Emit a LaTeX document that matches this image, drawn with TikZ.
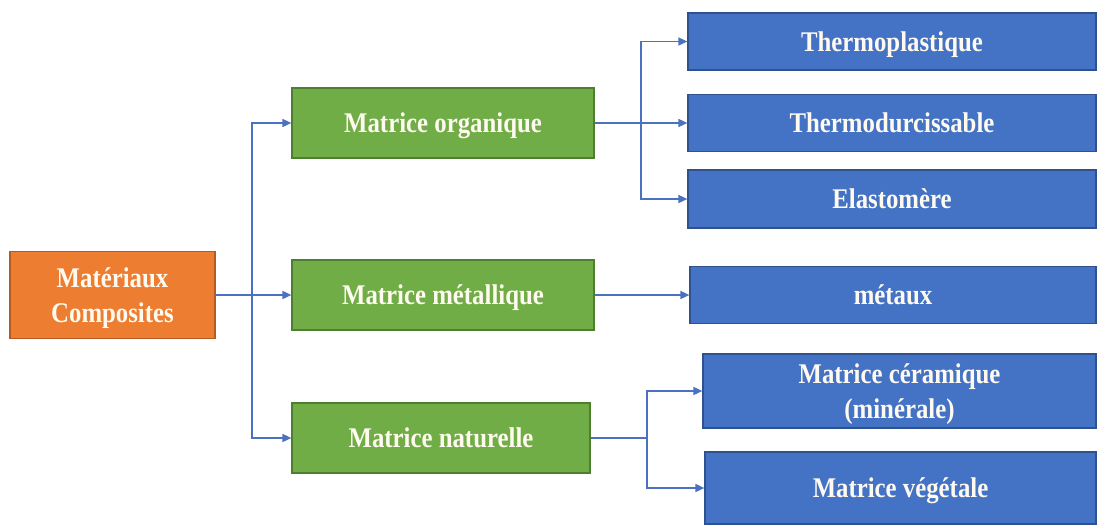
\documentclass[tikz,border=0pt]{standalone}
\usepackage{fontspec}
\setmainfont{Liberation Serif}[FakeStretch=0.87]
\usetikzlibrary{arrows.meta}
\definecolor{corange}{HTML}{ED7D31}
\definecolor{corangeb}{HTML}{B55A20}
\definecolor{cgreen}{HTML}{70AD47}
\definecolor{cgreenb}{HTML}{4E7F30}
\definecolor{cblue}{HTML}{4472C4}
\definecolor{cblueb}{HTML}{2F528F}
\definecolor{cline}{HTML}{4A72C0}
\definecolor{ctext}{HTML}{FFFAF0}
\tikzset{
  box/.style={draw, line width=1.2pt, text=ctext, align=center, inner sep=0pt,
    font=\fontsize{28.5}{35}\selectfont\bfseries},
  one/.style={text height=19pt, text depth=0pt},
  two/.style={text height=54pt, text depth=0pt},
  obox/.style={box, fill=corange, draw=corangeb},
  gbox/.style={box, fill=cgreen, draw=cgreenb},
  bbox/.style={box, fill=cblue, draw=cblueb},
  conn/.style={draw=cline, line width=1.6pt},
  arr/.style={conn, -{Triangle[length=9pt,width=8pt]}}
}
\begin{document}
\begin{tikzpicture}[x=1pt,y=-1pt]
\useasboundingbox (0,0) rectangle (1097,525);
% level 0
\node[obox, two, minimum width=205pt, minimum height=87pt] (mc) at (112.5,295) {Matériaux\\Composites};
% level 1
\node[gbox, one, minimum width=302pt, minimum height=70pt] (g1) at (443,123) {Matrice organique};
\node[gbox, one, minimum width=302pt, minimum height=70pt] (g2) at (443,295) {Matrice métallique};
\node[gbox, one, minimum width=298pt, minimum height=70pt] (g3) at (441,438) {Matrice naturelle};
% level 2
\node[bbox, one, minimum width=408pt, minimum height=57pt] (t1) at (892,41.5) {Thermoplastique};
\node[bbox, one, minimum width=408pt, minimum height=57pt] (t2) at (892,123) {Thermodurcissable};
\node[bbox, one, minimum width=408pt, minimum height=58pt] (t3) at (892,199) {Elastomère};
\node[bbox, one, minimum width=406pt, minimum height=57pt] (me) at (893,295) {métaux};
\node[bbox, two, minimum width=393pt, minimum height=74pt] (ce) at (899.5,391) {Matrice céramique\\(minérale)};
\node[bbox, one, minimum width=391pt, minimum height=72pt] (ve) at (900.5,488) {Matrice végétale};
% junctions
\coordinate (j1) at (252,295);
\coordinate (j2) at (641,123);
\coordinate (j3) at (647,438);
% connectors
\draw[arr] (mc.east) -- (g2.west);
\draw[arr] (j1) |- (g1.west);
\draw[arr] (j1) |- (g3.west);
\draw[arr] (g1.east) -- (t2.west);
\draw[arr] (j2) |- (t1.west);
\draw[arr] (j2) |- (t3.west);
\draw[arr] (g2.east) -- (me.west);
\draw[conn] (g3.east) -- (j3);
\draw[arr] (j3) |- (ce.west);
\draw[arr] (j3) |- (ve.west);
\end{tikzpicture}
\end{document}
